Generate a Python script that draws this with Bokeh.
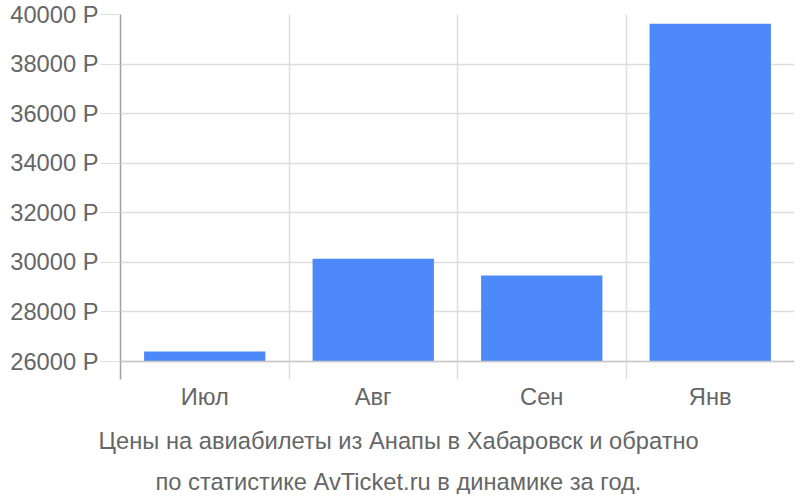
from bokeh.plotting import figure
from bokeh.models import Range1d, FixedTicker, Span, Title
from bokeh.embed import file_html
from bokeh.resources import INLINE

categories = ["Июл", "Авг", "Сен", "Янв"]
prices = [26400, 30150, 29470, 39630]
y_ticks = [26000, 28000, 30000, 32000, 34000, 36000, 38000, 40000]
title_lines = ["Цены на авиабилеты из Анапы в Хабаровск и обратно",
               "по статистике AvTicket.ru в динамике за год."]

FONT = "Liberation Sans"
TXT = "#666666"
FS = "23.7px"

p = figure(frame_width=674, frame_height=365, min_border_left=120, min_border_right=4,
           min_border_top=14, min_border_bottom=0,
           x_range=Range1d(0, len(categories)), y_range=Range1d(25274, 40000),
           output_backend="svg", toolbar_location=None, tools="")
p.outline_line_color = None

xs = [i + 0.5 for i in range(len(categories))]
p.vbar(x=xs, top=prices, bottom=26000, width=0.72, color="#4d89f9", line_color=None)

p.add_layout(Span(location=26000, dimension="width", line_color="#c8c8c8", line_width=1.5))

# x axis
p.xaxis.ticker = FixedTicker(ticks=xs)
p.xaxis.major_label_overrides = {x: c for x, c in zip(xs, categories)}
p.xaxis.axis_line_color = None
p.xaxis.major_tick_line_color = None
p.xaxis.minor_tick_line_color = None
p.xaxis.major_label_standoff = -2
p.xaxis.major_label_text_font = FONT
p.xaxis.major_label_text_font_size = FS
p.xaxis.major_label_text_color = TXT

# y axis
p.yaxis.ticker = FixedTicker(ticks=y_ticks)
p.yaxis.major_label_overrides = {t: f"{t} Р" for t in y_ticks}
p.yaxis.axis_line_color = "#a0a0a0"
p.yaxis.axis_line_width = 1.5
p.yaxis.major_tick_line_color = "#dddddd"
p.yaxis.major_tick_in = 0
p.yaxis.major_tick_out = 20
p.yaxis.minor_tick_line_color = None
p.yaxis.major_label_standoff = 2
p.yaxis.major_label_text_font = FONT
p.yaxis.major_label_text_font_size = FS
p.yaxis.major_label_text_color = TXT

p.xgrid.ticker = FixedTicker(ticks=list(range(len(categories) + 1)))
p.xgrid.grid_line_color = "#dddddd"
p.xgrid.grid_line_width = 1.5
p.ygrid.grid_line_color = "#dddddd"
p.ygrid.grid_line_width = 1.5

title_offsets = [-22, 35]
title_standoffs = [26, 0]
for line, off, so in zip(title_lines, title_offsets, title_standoffs):
    t = Title(text=line, align="left", offset=off, text_font=FONT,
              text_font_size=FS, text_font_style="normal", text_color=TXT,
              standoff=so)
    p.add_layout(t, "below")

open("out.html", "w").write(file_html(p, INLINE))
